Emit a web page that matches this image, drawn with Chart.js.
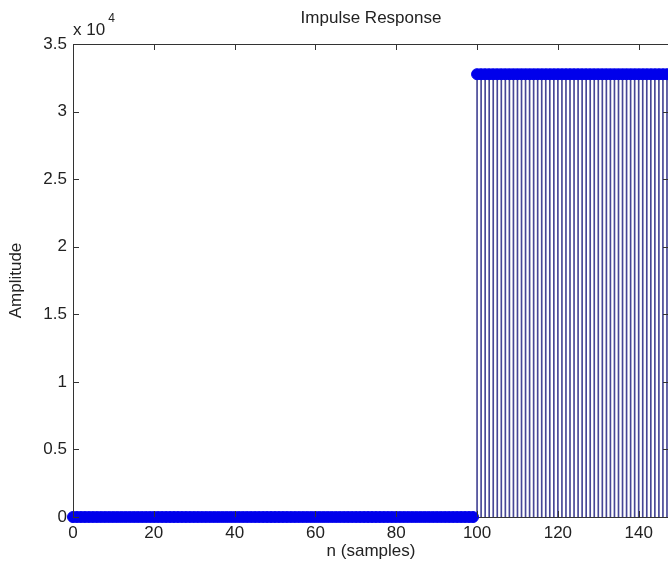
<!DOCTYPE html>
<html>
<head>
<meta charset="utf-8">
<script src="https://cdn.jsdelivr.net/npm/chart.js@4"></script>
<style>
  body { margin: 0; background: #fff; }
  #wrap { width: 668px; height: 567px; overflow: hidden; }
</style>
</head>
<body>
<div id="wrap"><canvas id="impulse" width="680" height="567"></canvas></div>
<script>
// sample index
const samples = [
  0,1,2,3,4,5,6,7,8,9,10,11,12,13,14,15,16,17,18,19,
  20,21,22,23,24,25,26,27,28,29,30,31,32,33,34,35,36,37,38,39,
  40,41,42,43,44,45,46,47,48,49,50,51,52,53,54,55,56,57,58,59,
  60,61,62,63,64,65,66,67,68,69,70,71,72,73,74,75,76,77,78,79,
  80,81,82,83,84,85,86,87,88,89,90,91,92,93,94,95,96,97,98,99,
  100,101,102,103,104,105,106,107,108,109,110,111,112,113,114,115,116,117,118,119,
  120,121,122,123,124,125,126,127,128,129,130,131,132,133,134,135,136,137,138,139,
  140,141,142,143,144,145,146,147
];
// amplitude
const amplitude = [
  0,0,0,0,0,0,0,0,0,0,0,0,0,0,0,0,0,0,0,0,
  0,0,0,0,0,0,0,0,0,0,0,0,0,0,0,0,0,0,0,0,
  0,0,0,0,0,0,0,0,0,0,0,0,0,0,0,0,0,0,0,0,
  0,0,0,0,0,0,0,0,0,0,0,0,0,0,0,0,0,0,0,0,
  0,0,0,0,0,0,0,0,0,0,0,0,0,0,0,0,0,0,0,0,
  32767,32767,32767,32767,32767,32767,32767,32767,32767,32767,32767,32767,32767,32767,32767,32767,32767,32767,32767,32767,
  32767,32767,32767,32767,32767,32767,32767,32767,32767,32767,32767,32767,32767,32767,32767,32767,32767,32767,32767,32767,
  32767,32767,32767,32767,32767,32767,32767,32767
];
const xTicks = [0, 20, 40, 60, 80, 100, 120, 140];
const yTicks = [0, 0.5, 1, 1.5, 2, 2.5, 3, 3.5]; // x 10^4

const points = samples.map((n, i) => ({x: n, y: amplitude[i]}));
const txt = '#222';
const fontFam = '"Liberation Sans", Arial, sans-serif';

// matlab style box: top line, inward ticks, exponent label
const matlabBox = {
  id: 'matlabBox',
  afterDraw(chart) {
    const ctx = chart.ctx;
    const a = chart.chartArea;
    const xs = chart.scales.x, ys = chart.scales.y;
    ctx.save();
    ctx.strokeStyle = '#333';
    ctx.lineWidth = 1;
    ctx.beginPath();
    ctx.moveTo(a.left, Math.round(a.top) + 0.5);
    ctx.lineTo(a.right, Math.round(a.top) + 0.5);
    ctx.moveTo(Math.round(a.right) + 0.5, a.top);
    ctx.lineTo(Math.round(a.right) + 0.5, a.bottom);
    xTicks.forEach(v => {
      const px = Math.round(xs.getPixelForValue(v)) + 0.5;
      ctx.moveTo(px, a.bottom); ctx.lineTo(px, a.bottom - 6);
      ctx.moveTo(px, a.top); ctx.lineTo(px, a.top + 6);
    });
    yTicks.forEach(v => {
      const py = Math.round(ys.getPixelForValue(v * 10000)) + 0.5;
      ctx.moveTo(a.left, py); ctx.lineTo(a.left + 6, py);
      ctx.moveTo(a.right, py); ctx.lineTo(a.right - 6, py);
    });
    ctx.stroke();
    ctx.fillStyle = txt;
    ctx.textBaseline = 'alphabetic';
    ctx.textAlign = 'left';
    ctx.font = '17px ' + fontFam;
    ctx.fillText('x 10', a.left, 35);
    const w = ctx.measureText('x 10').width;
    ctx.font = '12px ' + fontFam;
    ctx.fillText('4', a.left + w + 3, 22);
    ctx.restore();
  }
};

new Chart(document.getElementById('impulse'), {
  type: 'bar',
  data: {
    datasets: [
      {
        type: 'scatter',
        data: points,
        showLine: false,
        pointRadius: 5.5,
        pointHoverRadius: 5.5,
        pointBackgroundColor: 'rgb(0,0,235)',
        pointBorderColor: 'rgb(0,0,235)',
        pointBorderWidth: 1,
        clip: false,
        order: 0
      },
      {
        type: 'bar',
        data: points,
        backgroundColor: 'rgb(70,70,150)',
        barThickness: 1,
        borderWidth: 0,
        order: 1
      }
    ]
  },
  options: {
    responsive: false,
    animation: false,
    layout: { padding: { left: 0, right: 11, top: 0, bottom: 0 } },
    plugins: {
      legend: { display: false },
      tooltip: { enabled: false },
      title: {
        display: true,
        text: 'Impulse Response',
        fullSize: false,
        color: txt,
        font: { family: fontFam, size: 17, weight: 'normal' },
        padding: { top: 8, bottom: 15.6 }
      }
    },
    scales: {
      x: {
        type: 'linear',
        min: 0,
        max: 147.5,
        offset: false,
        afterFit(scale) { scale.height = 50; },
        grid: { display: false, drawTicks: false, offset: false },
        border: { display: true, color: '#333', width: 1 },
        ticks: {
          stepSize: 20,
          includeBounds: false,
          padding: 6,
          color: txt,
          maxRotation: 0,
          font: { family: fontFam, size: 17 }
        },
        title: {
          display: true,
          text: 'n (samples)',
          color: txt,
          font: { family: fontFam, size: 17 },
          padding: { top: 5, bottom: 5 }
        }
      },
      y: {
        min: 0,
        max: 35000,
        afterFit(scale) { scale.width = 73; },
        grid: { display: false, drawTicks: false },
        border: { display: true, color: '#333', width: 1 },
        ticks: {
          stepSize: 5000,
          padding: 6,
          color: txt,
          font: { family: fontFam, size: 17 },
          callback: v => String(v / 10000)
        },
        title: {
          display: true,
          text: 'Amplitude',
          color: txt,
          font: { family: fontFam, size: 17 },
          padding: { top: 6, bottom: 6 }
        }
      }
    }
  },
  plugins: [matlabBox]
});
</script>
</body>
</html>
